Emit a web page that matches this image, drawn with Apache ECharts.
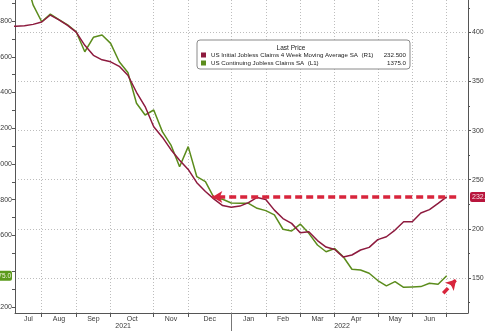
<!DOCTYPE html>
<html>
<head>
<meta charset="utf-8">
<script src="https://cdn.jsdelivr.net/npm/echarts@6/dist/echarts.min.js"></script>
<style>
  html, body { margin: 0; padding: 0; background: #fff; }
  #chart { width: 485px; height: 331px; }
</style>
</head>
<body>
<div id="chart"></div>
<script>
// Weekly observations (Fridays), x position = index in this list
const weekEnding = [
  '2021-07-09','2021-07-16','2021-07-23','2021-07-30','2021-08-06','2021-08-13','2021-08-20','2021-08-27',
  '2021-09-03','2021-09-10','2021-09-17','2021-09-24','2021-10-01','2021-10-08','2021-10-15','2021-10-22',
  '2021-10-29','2021-11-05','2021-11-12','2021-11-19','2021-11-26','2021-12-03','2021-12-10','2021-12-17',
  '2021-12-24','2021-12-31','2022-01-07','2022-01-14','2022-01-21','2022-01-28','2022-02-04','2022-02-11',
  '2022-02-18','2022-02-25','2022-03-04','2022-03-11','2022-03-18','2022-03-25','2022-04-01','2022-04-08',
  '2022-04-15','2022-04-22','2022-04-29','2022-05-06','2022-05-13','2022-05-20','2022-05-27','2022-06-03',
  '2022-06-10','2022-06-17','2022-06-24','2022-07-01'
];

// US Initial Jobless Claims 4 Week Moving Average SA, thousands (right axis)
const initialClaims4wk = [
  406, 406.1, 406.6, 408.1, 410.5, 417.6, 412.7, 407.1, 400.3, 386.8, 376.6, 372, 370,
  365.4, 356.3, 339, 324.5, 304, 293.3, 280.6, 269.9, 260.5, 247, 238, 230.3, 223.7,
  221.9, 223.2, 226.7, 232, 229.8, 219.1, 210.5, 205.6, 196, 197.1, 188.1, 181.5, 179,
  171.3, 173.4, 178.5, 181.2, 189.1, 192, 198.8, 207.2, 207.2, 216.1, 219.6, 225.9, 232.5
];

// US Continuing Jobless Claims SA, thousands (left axis)
const continuingClaims = [
  3290, 3240, 3060, 2890, 2796, 2839, 2808, 2778, 2740, 2628, 2709, 2722, 2675,
  2572, 2512, 2340, 2274, 2302, 2181, 2106, 1985, 2097, 1929, 1901, 1810, 1803,
  1782, 1780, 1780, 1752, 1739, 1715, 1635, 1625, 1664, 1612, 1547, 1509, 1527,
  1481, 1411, 1407, 1389, 1348, 1318, 1342, 1310, 1312, 1314, 1333, 1327, 1375
];

const initName = 'US Initial Jobless Claims 4 Week Moving Average SA  (R1)';
const contName = 'US Continuing Jobless Claims SA  (L1)';

// Axis tick values
const leftMajorTicks = [1200, 1400, 1600, 1800, 2000, 2200, 2400, 2600, 2800];
const leftMinorTicks = [1300, 1500, 1700, 1900, 2100, 2300, 2500, 2700, 2900];
const rightMajorTicks = [150, 200, 250, 300, 350, 400];
const rightMinorTicks = [125, 175, 225, 275, 325, 375, 425];
const monthNames = ['Jan','Feb','Mar','Apr','May','Jun','Jul','Aug','Sep','Oct','Nov','Dec'];

// Axis ranges
const xMin = 0.9, xMax = 53.47;
const leftMin = 1166.4, leftMax = 2917.5;
const rightMin = 114.4, rightMax = 432.9;

// Annotation arrows (data coordinates on the right axis)
const lastRed = initialClaims4wk[initialClaims4wk.length - 1];
const lastGreen = continuingClaims[continuingClaims.length - 1];
const levelArrow = { from: [52.1, lastRed], to: [23.8, lastRed] };
const upArrow = { from: [50.6, 134.5], to: [52.1, 148.5] };

// Month boundaries: first observation of each month
const monthStarts = [];
for (let i = 1; i < weekEnding.length; i++) {
  if (weekEnding[i].slice(5, 7) !== weekEnding[i - 1].slice(5, 7)) monthStarts.push(i);
}
const monthLabelMap = {};
const monthLabelValues = [];
{
  const firstMonth = +weekEnding[0].slice(5, 7) - 1;
  const pos = (xMin + monthStarts[0]) / 2;
  monthLabelValues.push(pos); monthLabelMap[pos.toFixed(3)] = monthNames[firstMonth];
  for (let k = 0; k < monthStarts.length - 1; k++) {
    const p = (monthStarts[k] + monthStarts[k + 1]) / 2;
    const m = +weekEnding[monthStarts[k]].slice(5, 7) - 1;
    monthLabelValues.push(p); monthLabelMap[p.toFixed(3)] = monthNames[m];
  }
}
const yearStart = weekEnding.findIndex(d => d.startsWith('2022'));
const yearLabelMap = {};
const yearLabelValues = [(xMin + yearStart) / 2, (yearStart + weekEnding.length - 0.3) / 2];
yearLabelMap[yearLabelValues[0].toFixed(3)] = '2021';
yearLabelMap[yearLabelValues[1].toFixed(3)] = '2022';

const FONT = 'Liberation Sans, Arial, sans-serif';
const TXT = '#3a3a3a';
const GRID = { color: '#bdbdbd', type: [1, 2], width: 1 };
const AXIS = { color: '#555', width: 1 };

const chart = echarts.init(document.getElementById('chart'), null, { renderer: 'canvas' });

chart.setOption({
  animation: false,
  backgroundColor: '#fff',
  textStyle: { fontFamily: FONT },
  grid: { left: 15, right: 17, top: 0, bottom: 18, containLabel: false, outerBoundsMode: 'none' },
  title: {
    text: 'Last Price', left: 291, top: 45, textAlign: 'center', z: 10, padding: 0,
    textStyle: { fontSize: 6.5, fontWeight: 'normal', color: '#222', fontFamily: FONT }
  },
  legend: {
    data: [initName, contName],
    orient: 'vertical', left: 197, top: 40,
    padding: [12, 4, 3, 4], itemGap: 2,
    itemWidth: 5, itemHeight: 5, icon: 'rect',
    backgroundColor: '#fff', borderColor: '#8a8a8a', borderWidth: 1, borderRadius: 3,
    selectedMode: false,
    textStyle: {
      fontSize: 6.2, color: '#222', fontFamily: FONT,
      rich: {
        n: { width: 170, fontSize: 6.2, color: '#222', fontFamily: FONT },
        v: { width: 25, align: 'right', fontSize: 6.2, color: '#222', fontFamily: FONT }
      }
    },
    formatter: name => name === initName
      ? `{n|${name}}{v|${lastRed.toFixed(3)}}`
      : `{n|${name}}{v|${lastGreen.toFixed(1)}}`
  },
  xAxis: [
    {
      type: 'value', min: xMin, max: xMax, position: 'bottom',
      axisLine: { show: true, lineStyle: AXIS },
      axisTick: { show: true, customValues: monthStarts, length: 4, lineStyle: AXIS },
      splitLine: { show: true, lineStyle: GRID },
      axisLabel: {
        customValues: monthLabelValues, margin: 3, fontSize: 7, color: TXT, fontFamily: FONT,
        formatter: v => monthLabelMap[(+v).toFixed(3)] || ''
      }
    },
    {
      type: 'value', min: xMin, max: xMax, position: 'bottom',
      axisLine: { show: false },
      axisTick: { show: true, customValues: [yearStart], length: 18, lineStyle: { color: '#777', width: 1 } },
      splitLine: { show: false },
      axisLabel: {
        customValues: yearLabelValues, margin: 10, fontSize: 7, color: TXT, fontFamily: FONT,
        formatter: v => yearLabelMap[(+v).toFixed(3)] || ''
      }
    }
  ],
  yAxis: [
    {
      type: 'value', position: 'left', min: leftMin, max: leftMax,
      axisLine: { show: true, lineStyle: AXIS },
      axisTick: { show: true, customValues: leftMajorTicks.concat(leftMinorTicks), length: 3, lineStyle: AXIS },
      splitLine: { show: false },
      axisLabel: {
        customValues: leftMajorTicks.filter(v => v !== 1400).concat([lastGreen]),
        margin: 3, fontSize: 7, color: TXT, fontFamily: FONT,
        formatter: v => v === lastGreen ? `{g|${lastGreen.toFixed(1)}}` : `${v}`,
        rich: {
          g: { backgroundColor: '#5b9a1c', color: '#f4f4e0', borderRadius: 2,
               padding: [2, 1, 1, 2], fontSize: 6.5, fontFamily: FONT }
        }
      }
    },
    {
      type: 'value', position: 'right', min: rightMin, max: rightMax,
      axisLine: { show: true, lineStyle: AXIS },
      axisTick: { show: true, customValues: rightMajorTicks, length: 3, lineStyle: AXIS },
      splitLine: { show: true, lineStyle: GRID },
      axisLabel: {
        customValues: rightMajorTicks, margin: 4, fontSize: 7, color: TXT, fontFamily: FONT
      }
    },
    {
      type: 'value', position: 'right', min: rightMin, max: rightMax,
      axisLine: { show: false },
      axisTick: { show: true, customValues: rightMinorTicks, length: 2, lineStyle: AXIS },
      splitLine: { show: false },
      axisLabel: {
        customValues: [lastRed], margin: 2, fontSize: 7, fontFamily: FONT,
        formatter: v => `{r|${lastRed.toFixed(1)}}`,
        rich: {
          r: { backgroundColor: '#b8153c', color: '#f6dde2', borderRadius: 2,
               padding: [2, 2, 1, 2], fontSize: 7, fontFamily: FONT }
        }
      }
    }
  ],
  series: [
    {
      name: contName, type: 'line', xAxisIndex: 0, yAxisIndex: 0,
      data: continuingClaims.map((v, i) => [i, v]),
      showSymbol: false, symbol: 'none', color: '#5b8c1c',
      lineStyle: { width: 1.5, color: '#5b8c1c' }, z: 3
    },
    {
      name: initName, type: 'line', xAxisIndex: 0, yAxisIndex: 1,
      data: initialClaims4wk.map((v, i) => [i, v]),
      showSymbol: false, symbol: 'none', color: '#8d1a3e',
      lineStyle: { width: 1.5, color: '#8d1a3e' }, z: 4,
      markLine: {
        silent: true, animation: false, z: 5,
        symbolSize: [9, 10],
        label: { show: false },
        lineStyle: { color: '#d8253c', width: 3.5, type: [7, 4] },
        emphasis: { disabled: true },
        data: [
          [{ coord: levelArrow.from, symbol: 'none' }, { coord: levelArrow.to, symbol: 'arrow' }],
          [{ coord: upArrow.from, symbol: 'none' }, { coord: upArrow.to, symbol: 'arrow' }]
        ]
      }
    }
  ]
});
</script>
</body>
</html>
